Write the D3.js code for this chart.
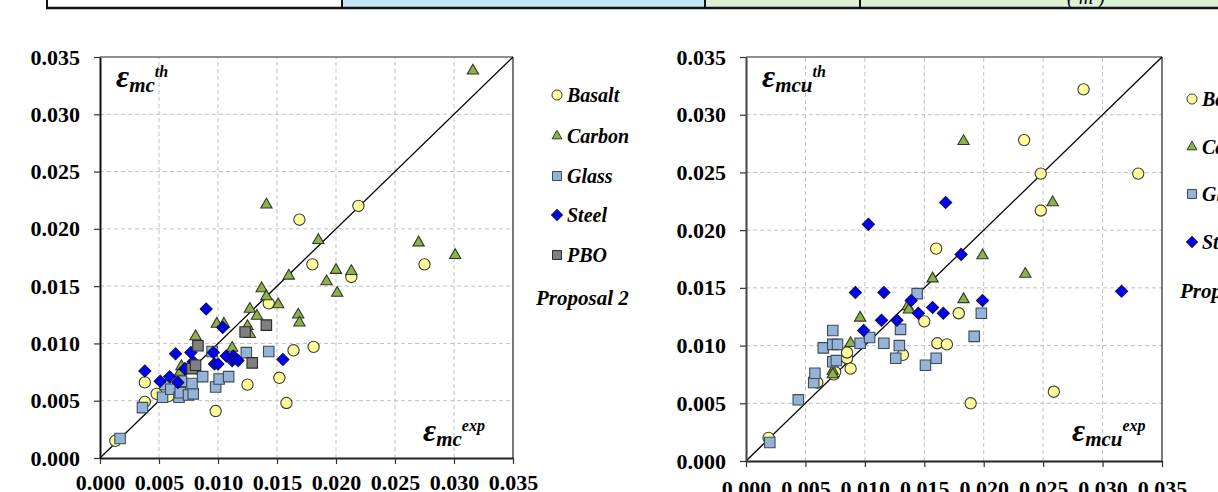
<!DOCTYPE html>
<html><head><meta charset="utf-8">
<script src="https://cdn.jsdelivr.net/npm/d3@7"></script>
<style>body{margin:0;background:#fff}svg{display:block}</style>
</head><body>
<svg id="c" width="1218" height="492"></svg>
<script>
// ---------- data ----------
const tickValues = [0, 0.005, 0.010, 0.015, 0.020, 0.025, 0.030, 0.035];
const tickLabels = ["0.000", "0.005", "0.010", "0.015", "0.020", "0.025", "0.030", "0.035"];
const seriesNames = ["Basalt", "Carbon", "Glass", "Steel", "PBO"];

// Left panel: eps_mc (exp, th)
const mcBasalt = [[0.0013,0.0015],[0.0038,0.0049],[0.0038,0.0066],[0.0048,0.0056],[0.0058,0.0054],[0.0068,0.0058],
  [0.0098,0.0041],[0.0125,0.0064],[0.0143,0.0135],[0.0152,0.0070],[0.0158,0.0048],[0.0164,0.0094],[0.0169,0.0208],
  [0.0180,0.0169],[0.0181,0.0097],[0.0213,0.0158],[0.0219,0.0220],[0.0275,0.0169]];
const mcCarbon = [[0.0068,0.0075],[0.0069,0.0080],[0.0081,0.0106],[0.0099,0.0117],[0.0105,0.0117],[0.0112,0.0096],
  [0.0125,0.0115],[0.0127,0.0108],[0.0127,0.0130],[0.0133,0.0124],[0.0137,0.0148],[0.0141,0.0141],[0.0141,0.0221],
  [0.0151,0.0134],[0.0160,0.0159],[0.0168,0.0125],[0.0169,0.0118],[0.0185,0.0190],[0.0192,0.0154],[0.0200,0.0164],
  [0.0201,0.0144],[0.0213,0.0163],[0.0270,0.0188],[0.0301,0.0177],[0.0316,0.0338]];
const mcGlass = [[0.0017,0.0017],[0.0036,0.0044],[0.0053,0.0053],[0.0055,0.0064],[0.0060,0.0060],[0.0067,0.0053],
  [0.0068,0.0057],[0.0069,0.0067],[0.0075,0.0055],[0.0079,0.0056],[0.0078,0.0065],[0.0087,0.0071],[0.0095,0.0093],
  [0.0098,0.0062],[0.0101,0.0069],[0.0109,0.0071],[0.0124,0.0092],[0.0143,0.0093]];
const mcSteel = [[0.0038,0.0076],[0.0051,0.0067],[0.0059,0.0071],[0.0064,0.0091],[0.0066,0.0066],[0.0072,0.0078],
  [0.0077,0.0092],[0.0079,0.0084],[0.0090,0.0130],[0.0096,0.0092],[0.0097,0.0082],[0.0100,0.0082],[0.0104,0.0114],
  [0.0107,0.0089],[0.0113,0.0089],[0.0112,0.0085],[0.0117,0.0085],[0.0155,0.0086]];
const mcPBO = [[0.0078,0.0078],[0.0081,0.0081],[0.0083,0.0098],[0.0123,0.0110],[0.0129,0.0083],[0.0141,0.0116]];

// Right panel: eps_mcu (exp, th)
const mcuBasalt = [[0.0019,0.0020],[0.0060,0.0068],[0.0074,0.0075],[0.0075,0.0077],[0.0085,0.0089],[0.0085,0.0094],
  [0.0088,0.0080],[0.0132,0.0092],[0.0150,0.0121],[0.0161,0.0102],[0.0160,0.0184],[0.0169,0.0101],[0.0179,0.0128],
  [0.0189,0.0050],[0.0234,0.0278],[0.0248,0.0217],[0.0248,0.0249],[0.0259,0.0060],[0.0284,0.0322],[0.0330,0.0249]];
const mcuCarbon = [[0.0073,0.0078],[0.0073,0.0075],[0.0088,0.0102],[0.0096,0.0124],[0.0136,0.0134],[0.0137,0.0131],
  [0.0157,0.0158],[0.0183,0.0140],[0.0183,0.0277],[0.0199,0.0178],[0.0235,0.0162],[0.0258,0.0224]];
const mcuGlass = [[0.0020,0.0016],[0.0044,0.0053],[0.0057,0.0068],[0.0058,0.0076],[0.0065,0.0098],[0.0073,0.0113],
  [0.0073,0.0101],[0.0077,0.0101],[0.0073,0.0086],[0.0076,0.0087],[0.0096,0.0102],[0.0104,0.0107],[0.0116,0.0102],
  [0.0129,0.0100],[0.0126,0.0089],[0.0130,0.0114],[0.0144,0.0145],[0.0151,0.0083],[0.0160,0.0089],[0.0192,0.0108],
  [0.0198,0.0128]];
const mcuSteel = [[0.0092,0.0146],[0.0099,0.0113],[0.0103,0.0205],[0.0114,0.0122],[0.0116,0.0146],[0.0127,0.0122],
  [0.0139,0.0139],[0.0145,0.0128],[0.0157,0.0133],[0.0166,0.0128],[0.0168,0.0224],[0.0181,0.0179],[0.0199,0.0139],
  [0.0316,0.0147]];

const legendNote = "Proposal 2";

// ---------- styles ----------
const styles = {
  Basalt: {sym: d3.symbolCircle, size: 100, lsize: 80, fill: "#ffff99", stroke: "#3a3a3a", rot: 0},
  Carbon: {sym: d3.symbolTriangle, size: 55, lsize: 42, fill: "#8fb050", stroke: "#2f3a1a", rot: 0},
  Glass:  {sym: d3.symbolSquare, size: 110, lsize: 80, fill: "#95b3d7", stroke: "#3d4a5a", rot: 0},
  Steel:  {sym: d3.symbolSquare, size: 72, lsize: 60, fill: "#0000ff", stroke: "#10104a", rot: 45},
  PBO:    {sym: d3.symbolSquare, size: 110, lsize: 80, fill: "#808080", stroke: "#2a2a2a", rot: 0}
};

const svg = d3.select("#c");
const FONT = "'Liberation Serif','Times New Roman',serif";

// ---------- top table fragment ----------
const tbl = svg.append("g");
const cells = [[47,342,"#ffffff"],[342,705,"#c4e5f5"],[705,860,"#daf2d2"],[860,1220,"#daf2d2"]];
tbl.selectAll("rect").data(cells).join("rect")
  .attr("x", d => d[0]).attr("y", -2).attr("width", d => d[1]-d[0]).attr("height", 10).attr("fill", d => d[2]);
tbl.selectAll("line.v").data(cells.map(d=>d[0])).join("line").attr("class","v")
  .attr("x1", d=>d).attr("x2", d=>d).attr("y1", -2).attr("y2", 9).attr("stroke","#111").attr("stroke-width",2);
tbl.append("line").attr("x1",46).attr("x2",1218).attr("y1",8).attr("y2",8).attr("stroke","#111").attr("stroke-width",2.5);
tbl.append("text").attr("x",1086).attr("y",4).attr("text-anchor","middle")
  .attr("font-family",FONT).attr("font-size",20).attr("font-style","italic").text("( m )");

// ---------- panel ----------
function panel(cfg){
  const x = d3.scaleLinear().domain([0,0.035]).range(cfg.xr);
  const y = d3.scaleLinear().domain([0,0.035]).range(cfg.yr);
  const g = svg.append("g");

  // grid
  g.selectAll("line.gx").data(tickValues.slice(1,-1)).join("line")
    .attr("x1", d=>x(d)).attr("x2", d=>x(d)).attr("y1", y(0)).attr("y2", y(0.035))
    .attr("stroke","#c0c0c0").attr("stroke-dasharray","4,3").attr("stroke-width",1);
  g.selectAll("line.gy").data(tickValues.slice(1,-1)).join("line")
    .attr("y1", d=>y(d)).attr("y2", d=>y(d)).attr("x1", x(0)).attr("x2", x(0.035))
    .attr("stroke","#c0c0c0").attr("stroke-dasharray","4,3").attr("stroke-width",1);

  // border top/right
  g.append("line").attr("x1",x(0)).attr("x2",x(0.035)).attr("y1",y(0.035)).attr("y2",y(0.035)).attr("stroke","#222").attr("stroke-width",1.2);
  g.append("line").attr("x1",x(0.035)).attr("x2",x(0.035)).attr("y1",y(0)).attr("y2",y(0.035)).attr("stroke","#222").attr("stroke-width",1.2);

  // diagonal
  g.append("line").attr("x1",x(0)).attr("y1",y(0)).attr("x2",x(0.035)).attr("y2",y(0.035))
    .attr("stroke","#000").attr("stroke-width",1.3);

  // axes
  const fmt = (d,i) => tickLabels[i];
  const ax = g.append("g").attr("transform",`translate(0,${y(0)})`)
    .call(d3.axisBottom(x).tickValues(tickValues).tickFormat(fmt).tickSize(6).tickSizeOuter(0).tickPadding(cfg.xpad));
  const ay = g.append("g").attr("transform",`translate(${x(0)},0)`)
    .call(d3.axisLeft(y).tickValues(tickValues).tickFormat(fmt).tickSize(6).tickSizeOuter(0).tickPadding(14));
  [ax, ay].forEach(a => {
    a.selectAll("text").attr("font-family",FONT).attr("font-size",22).attr("font-weight","bold").attr("fill","#000");
    a.selectAll("line").attr("stroke","#333").attr("stroke-width",1.2);
  });
  ax.select(".domain").attr("stroke","#222").attr("stroke-width",2);
  ay.select(".domain").attr("stroke",cfg.yAxisColor).attr("stroke-width",2);

  // points
  cfg.series.forEach(s => {
    const st = styles[s.name];
    g.append("g").selectAll("path").data(s.data).join("path")
      .attr("d", d3.symbol().type(st.sym).size(st.size))
      .attr("transform", d => `translate(${x(d[0])},${y(d[1])}) rotate(${st.rot})`)
      .attr("fill", st.fill).attr("stroke", st.stroke).attr("stroke-width", 1.1);
  });

  // annotations
  function eps(xp, yp, sub, sup){
    const t = g.append("text").attr("x",xp).attr("y",yp)
      .attr("font-family",FONT).attr("font-weight","bold").attr("font-style","italic").attr("fill","#000");
    t.append("tspan").attr("font-size",32).text("ε");
    t.append("tspan").attr("font-size",21).attr("dy",5).text(sub);
    t.append("tspan").attr("font-size",16).attr("dy",-15).text(sup);
  }
  eps(cfg.thPos[0], cfg.thPos[1], cfg.sub, "th");
  eps(cfg.expPos[0], cfg.expPos[1], cfg.sub, "exp");

  // legend
  const lg = g.append("g");
  cfg.series.forEach((s,i) => {
    const st = styles[s.name];
    const ly = cfg.legY[i];
    lg.append("path").attr("d", d3.symbol().type(st.sym).size(st.lsize))
      .attr("transform", `translate(${cfg.legX},${ly}) rotate(${st.rot})`)
      .attr("fill", st.fill).attr("stroke", st.stroke).attr("stroke-width",1);
    lg.append("text").attr("x", cfg.legX+10).attr("y", ly+7)
      .attr("font-family",FONT).attr("font-size",20).attr("font-weight","bold").attr("font-style","italic")
      .text(s.name);
  });
  lg.append("text").attr("x", cfg.noteX).attr("y", cfg.noteY)
    .attr("font-family",FONT).attr("font-size",21).attr("font-weight","bold").attr("font-style","italic")
    .text(legendNote);
}

panel({
  xr:[100,513], yr:[458,57], xpad:10, yAxisColor:"#111", sub:"mc",
  series:[{name:"Basalt",data:mcBasalt},{name:"Carbon",data:mcCarbon},{name:"Glass",data:mcGlass},{name:"Steel",data:mcSteel},{name:"PBO",data:mcPBO}],
  thPos:[116,87], expPos:[423,441],
  legX:557, legY:[95,136,176,215,255], noteX:536, noteY:305
});
panel({
  xr:[746,1162], yr:[461,57], xpad:13, yAxisColor:"#444", sub:"mcu",
  series:[{name:"Basalt",data:mcuBasalt},{name:"Carbon",data:mcuCarbon},{name:"Glass",data:mcuGlass},{name:"Steel",data:mcuSteel}],
  thPos:[762,87], expPos:[1072,441],
  legX:1192, legY:[99,147,194,242], noteX:1180, noteY:298
});
</script>
</body></html>
